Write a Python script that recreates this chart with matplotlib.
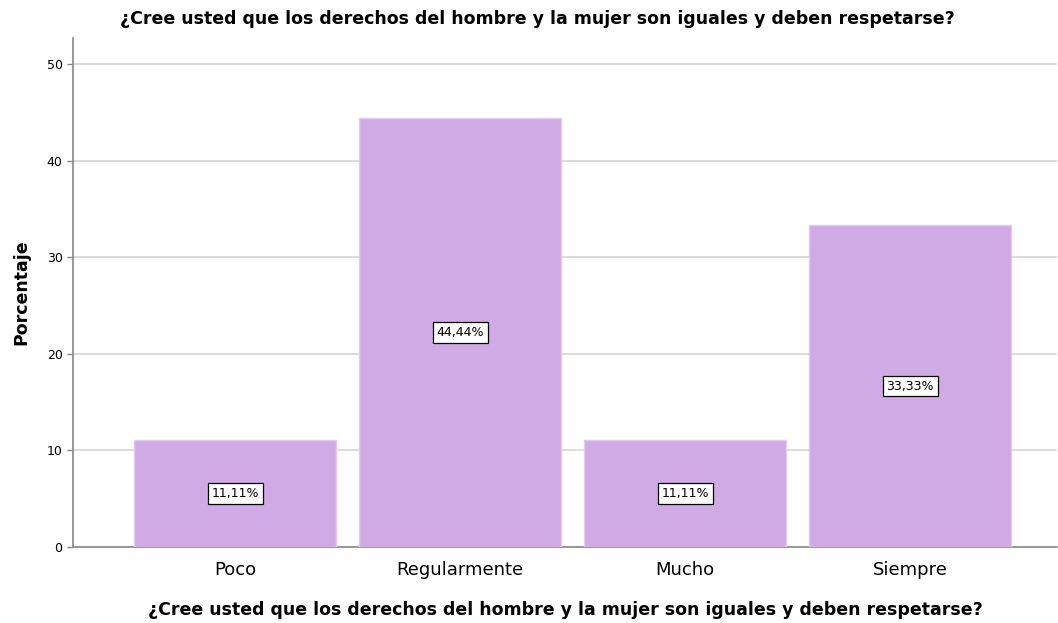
import matplotlib
matplotlib.use("Agg")
import matplotlib.pyplot as plt

categories = ["Poco", "Regularmente", "Mucho", "Siempre"]
values = [11.11, 44.44, 11.11, 33.33]
labels = ["11,11%", "44,44%", "11,11%", "33,33%"]
yticks = [0, 10, 20, 30, 40, 50]
title = "¿Cree usted que los derechos del hombre y la mujer son iguales y deben respetarse?"

plt.rcParams['font.family'] = ['DejaVu Sans']

fig = plt.figure(figsize=(10.58, 6.23), dpi=100)
ax = fig.add_axes([73/1058, 76/623, (1057-73)/1058, (547-38)/623])

x = list(range(len(categories)))
ax.bar(x, values, width=0.898, color="#D0AAE4", edgecolor="#E2CBEE", linewidth=1, zorder=3)
for xi, v, lab in zip(x, values, labels):
    ax.text(xi, v/2, lab, ha="center", va="center", fontsize=9, zorder=4,
            bbox=dict(boxstyle="square,pad=0.3", facecolor="white", edgecolor="black", linewidth=0.9))

ax.set_xlim(-0.72, 3.652)
ax.set_ylim(0, 52.7)
ax.set_yticks(yticks)
ax.set_xticks(x)
ax.set_xticklabels(categories, fontsize=13)
ax.tick_params(axis="y", labelsize=9, length=4, color="#888888", width=1)
ax.tick_params(axis="x", length=0, pad=10)
ax.yaxis.grid(True, color="#D9D9D9", linewidth=1.3, zorder=0)
ax.set_axisbelow(True)
for s in ["top", "right"]:
    ax.spines[s].set_visible(False)
for s in ["left", "bottom"]:
    ax.spines[s].set_color("#888888")
    ax.spines[s].set_linewidth(1.2)

ax.set_ylabel("Porcentaje", fontsize=12.5, fontweight="bold", labelpad=12)
ax.set_xlabel(title, fontsize=12.5, fontweight="bold", labelpad=16)
fig.text(537/1058, 1 - 19/623, title, ha="center", va="center", fontsize=12.5, fontweight="bold")

fig.savefig("out.png", dpi=100)
